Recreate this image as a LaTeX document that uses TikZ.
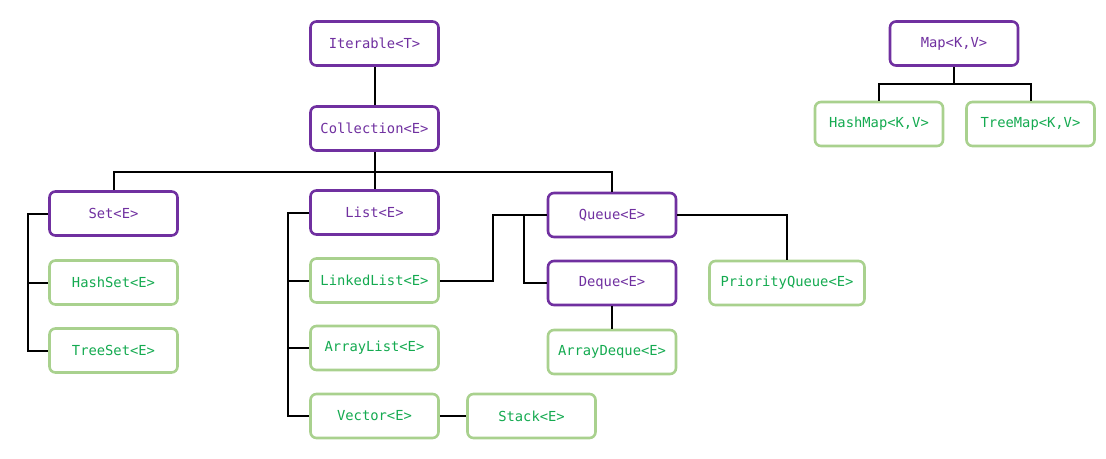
\documentclass[tikz,border=0pt]{standalone}
\usepackage{fontspec}
\setmonofont{DejaVu Sans Mono}
\usetikzlibrary{positioning,calc}

\definecolor{ifacepurple}{RGB}{112,48,160}
\definecolor{classborder}{RGB}{169,209,142}
\definecolor{classtext}{RGB}{20,170,80}

\begin{document}
\begin{tikzpicture}[
  x=1pt, y=-1pt,
  box/.style={draw, rounded corners=6pt, line width=2.6pt, minimum width=128pt,
              minimum height=44pt, inner sep=2pt, fill=white,
              font=\ttfamily\fontsize{13.8}{16}\selectfont},
  iface/.style={box, draw=ifacepurple, text=ifacepurple},
  impl/.style={box, draw=classborder, text=classtext},
  link/.style={draw=black, line width=2pt}
]
  \useasboundingbox (0,0) rectangle (1106,458);

  % interfaces
  \node[iface] (iterable)   at (374.5,43.5)  {Iterable<T>};
  \node[iface] (collection) at (374.5,128.5) {Collection<E>};
  \node[iface] (set)        at (113.5,213.5) {Set<E>};
  \node[iface] (list)       at (374.5,212.5) {List<E>};
  \node[iface] (queue)      at (612,215)     {Queue<E>};
  \node[iface] (deque)      at (612,283)     {Deque<E>};
  \node[iface] (map)        at (954,43.5)    {Map<K,V>};

  % classes
  \node[impl] (hashset)    at (113.5,282.5) {HashSet<E>};
  \node[impl] (treeset)    at (113.5,350.5) {TreeSet<E>};
  \node[impl] (linkedlist) at (374.5,280.5) {LinkedList<E>};
  \node[impl] (arraylist)  at (374.5,348)   {ArrayList<E>};
  \node[impl] (vector)     at (374.5,416)   {Vector<E>};
  \node[impl] (stack)      at (531.5,416)   {Stack<E>};
  \node[impl] (arraydeque) at (612,352)     {ArrayDeque<E>};
  \node[impl, minimum width=155pt] (pqueue) at (787,283) {PriorityQueue<E>};
  \node[impl] (hashmap)    at (879,124)     {HashMap<K,V>};
  \node[impl] (treemap)    at (1030.5,124)  {TreeMap<K,V>};

  % bus lines
  \coordinate (colbus) at (0,172);
  \coordinate (setbus) at (28,0);
  \coordinate (listbus) at (288,0);
  \coordinate (qbus) at (493,0);
  \coordinate (dqbus) at (524,0);
  \coordinate (mapbus) at (0,84);

  \draw[link] (iterable) -- (collection);
  \draw[link] (collection) -- (list);
  \draw[link] (set.north) |- (queue.north |- colbus) -- (queue.north);

  \draw[link] (set.west) -| (treeset.west -| setbus) -- (treeset.west);
  \draw[link] (hashset.west -| setbus) -- (hashset.west);

  \draw[link] (list.west) -| (vector.west -| listbus) -- (vector.west);
  \draw[link] (linkedlist.west -| listbus) -- (linkedlist.west);
  \draw[link] (arraylist.west -| listbus) -- (arraylist.west);
  \draw[link] (vector) -- (stack);

  \draw[link] (queue.west) -| (linkedlist.east -| qbus) -- (linkedlist.east);
  \draw[link] (queue.west -| dqbus) |- (deque.west);
  \draw[link] (queue.east) -| (pqueue.north);
  \draw[link] (deque) -- (arraydeque);

  \draw[link] (map) -- (map.south |- mapbus);
  \draw[link] (hashmap.north) |- (treemap.north |- mapbus) -- (treemap.north);
\end{tikzpicture}
\end{document}
